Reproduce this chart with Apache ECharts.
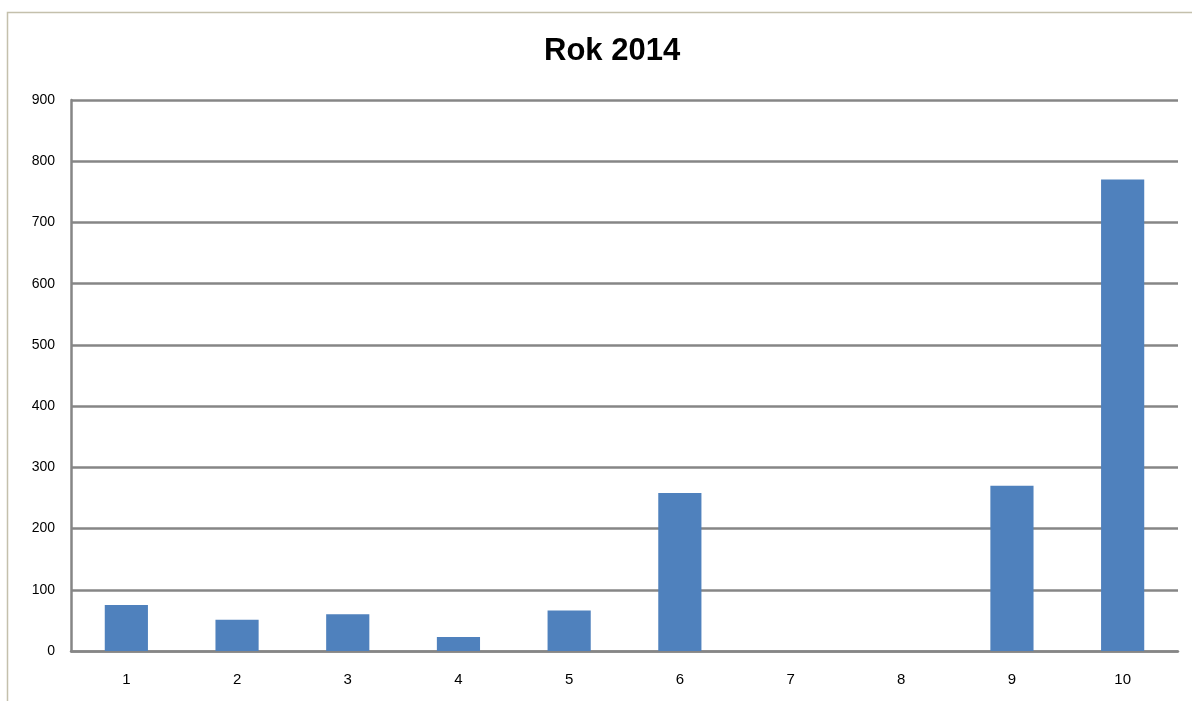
<!DOCTYPE html>
<html>
<head>
<meta charset="utf-8">
<script src="https://cdn.jsdelivr.net/npm/echarts@6/dist/echarts.min.js"></script>
<style>
  html, body { margin: 0; padding: 0; background: #fff; }
  #chart { width: 1192px; height: 701px; }
</style>
</head>
<body>
<div id="chart"></div>
<script>
// Category labels along the x axis
const categories = ['1', '2', '3', '4', '5', '6', '7', '8', '9', '10'];
// Values per category for 2014
const values = [75, 51, 60, 23, 66, 258, 0, 0, 270, 770];
// Value axis range
const yMin = 0;
const yMax = 900;
const yStep = 100;

const chart = echarts.init(document.getElementById('chart'), null, { renderer: 'canvas' });

chart.setOption({
  backgroundColor: '#ffffff',
  animation: false,
  title: {
    text: 'Rok 2014',
    left: 539,
    top: 31,
    textStyle: {
      fontFamily: 'Liberation Sans, Arial, sans-serif',
      fontSize: 31,
      fontWeight: 'bold',
      color: '#000000'
    }
  },
  graphic: [{
    type: 'rect',
    shape: { x: 7.5, y: 12.5, width: 1300, height: 800 },
    style: { fill: 'none', stroke: '#c4c0ac', lineWidth: 1.5 },
    silent: true,
    z: 0
  }],
  grid: {
    left: 71,
    right: 14,
    top: 100,
    bottom: 50,
    containLabel: false
  },
  xAxis: {
    type: 'category',
    data: categories,
    axisLine: { show: true, lineStyle: { color: '#868686', width: 2.5 } },
    axisTick: { show: false },
    axisLabel: {
      color: '#000000',
      fontFamily: 'Liberation Sans, Arial, sans-serif',
      fontSize: 15,
      margin: 21
    }
  },
  yAxis: {
    type: 'value',
    min: yMin,
    max: yMax,
    interval: yStep,
    axisLine: { show: true, lineStyle: { color: '#868686', width: 2.5 } },
    axisTick: { show: false },
    axisLabel: {
      color: '#000000',
      fontFamily: 'Liberation Sans, Arial, sans-serif',
      fontSize: 14,
      margin: 16
    },
    splitLine: { show: true, lineStyle: { color: '#868686', width: 2.5 } }
  },
  series: [{
    type: 'bar',
    data: values,
    barWidth: '39%',
    itemStyle: { color: '#4f81bd' },
    z: 3
  }]
});
</script>
</body>
</html>
